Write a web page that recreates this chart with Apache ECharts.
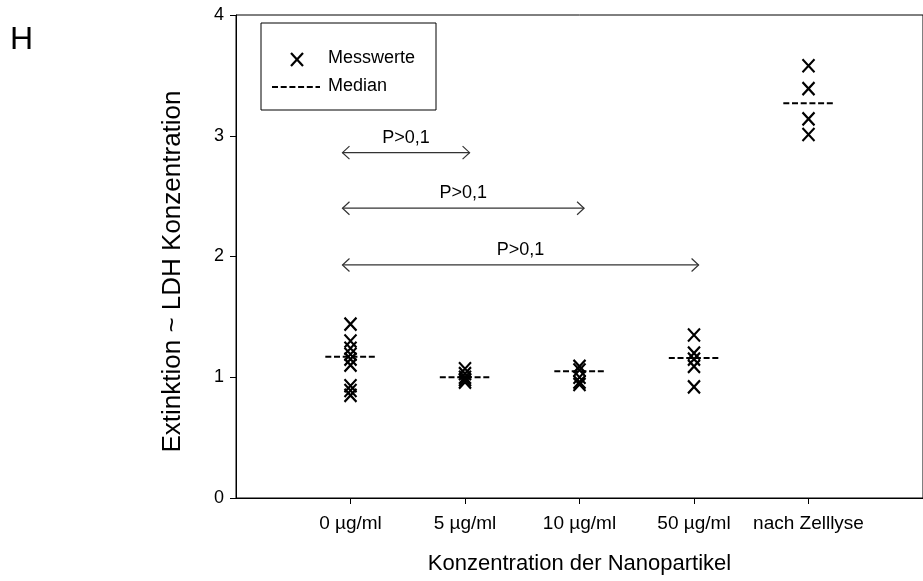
<!DOCTYPE html>
<html>
<head>
<meta charset="utf-8">
<script src="https://cdn.jsdelivr.net/npm/echarts@6/dist/echarts.min.js"></script>
<style>
  html, body { margin: 0; padding: 0; background: #fff; }
  #chart { width: 923px; height: 581px; }
</style>
</head>
<body>
<div id="chart"></div>
<script>
// Kategorien (x-Achse)
const categories = ['0 µg/ml', '5 µg/ml', '10 µg/ml', '50 µg/ml', 'nach Zelllyse'];

// Messwerte je Kategorie
const werte0 = [1.44, 1.30, 1.24, 1.19, 1.15, 1.10, 0.93, 0.89, 0.85];
const werte5 = [1.07, 1.03, 1.00, 0.98, 0.96];
const werte10 = [1.09, 1.06, 1.00, 0.96, 0.94];
const werte50 = [1.35, 1.20, 1.15, 1.09, 0.92];
const werteLyse = [3.58, 3.39, 3.14, 3.01];

// Mediane
const medians = [1.17, 1.00, 1.05, 1.16, 3.27];

// Signifikanz-Pfeile
const bracketFrom = [0, 0, 0];
const bracketTo = [1, 2, 3];
const bracketY = [2.86, 2.40, 1.93];
const bracketText = ['P>0,1', 'P>0,1', 'P>0,1'];

const yTicks = [0, 1, 2, 3, 4];

const FONT = '"Liberation Sans", Arial, sans-serif';
const X_PATH = 'path://M0,0L12,13M12,0L0,13';

const werte = [werte0, werte5, werte10, werte50, werteLyse];
const scatterData = [];
werte.forEach((arr, i) => arr.forEach(v => scatterData.push([i, v])));

const chart = echarts.init(document.getElementById('chart'));

const option = {
  animation: false,
  grid: {
    left: 236,
    right: -3,
    top: 15,
    bottom: 83,
    show: true,
    borderColor: '#000',
    borderWidth: 1
  },
  xAxis: {
    type: 'value',
    min: -1,
    max: 5,
    interval: 1,
    name: 'Konzentration der Nanopartikel',
    nameLocation: 'middle',
    nameGap: 55,
    nameTextStyle: { color: '#000', fontSize: 22, fontFamily: FONT },
    axisLine: { onZero: false, lineStyle: { color: '#000', width: 1 } },
    axisTick: { show: true, inside: false, length: 6, customValues: [0, 1, 2, 3, 4], lineStyle: { color: '#000' } },
    axisLabel: {
      customValues: [0, 1, 2, 3, 4],
      formatter: v => categories[v] || '',
      color: '#000',
      fontSize: 19,
      fontFamily: FONT,
      margin: 16
    },
    splitLine: { show: false }
  },
  yAxis: {
    type: 'value',
    min: 0,
    max: 4,
    interval: 1,
    name: 'Extinktion ~ LDH Konzentration',
    nameLocation: 'middle',
    nameGap: 50,
    nameTextStyle: { color: '#000', fontSize: 26, fontFamily: FONT, padding: [0, 30, 0, 0] },
    axisLine: { show: true, onZero: false, lineStyle: { color: '#000', width: 1 } },
    axisTick: { show: true, inside: false, length: 6, lineStyle: { color: '#000' } },
    axisLabel: {
      formatter: v => (yTicks.indexOf(v) >= 0 ? String(v) : ''),
      color: '#000',
      fontSize: 18,
      fontFamily: FONT,
      margin: 12
    },
    splitLine: { show: false }
  },
  graphic: [
    { type: 'text', x: 10, y: 24, style: { text: 'H', fontSize: 32, fontFamily: FONT, fill: '#000' } },
    // Legende
    { type: 'rect', shape: { x: 261, y: 23, width: 175, height: 87 }, style: { fill: '#fff', stroke: '#000', lineWidth: 1 }, z: 10 },
    { type: 'line', shape: { x1: 291, y1: 53, x2: 303, y2: 66 }, style: { stroke: '#000', lineWidth: 2.2 }, z: 11 },
    { type: 'line', shape: { x1: 303, y1: 53, x2: 291, y2: 66 }, style: { stroke: '#000', lineWidth: 2.2 }, z: 11 },
    { type: 'text', x: 328, y: 58, style: { text: 'Messwerte', fontSize: 18, fontFamily: FONT, fill: '#000', verticalAlign: 'middle' }, z: 11 },
    { type: 'line', shape: { x1: 272, y1: 87, x2: 320, y2: 87 }, style: { stroke: '#000', lineWidth: 2, lineDash: [6, 2.7] }, z: 11 },
    { type: 'text', x: 328, y: 86, style: { text: 'Median', fontSize: 18, fontFamily: FONT, fill: '#000', verticalAlign: 'middle' }, z: 11 }
  ],
  series: [
    {
      name: 'Messwerte',
      type: 'scatter',
      data: scatterData,
      symbol: X_PATH,
      symbolSize: [12, 13],
      itemStyle: { color: 'rgba(0,0,0,0)', borderColor: '#000', borderWidth: 2.2, opacity: 1 },
      silent: true,
      z: 3
    },
    {
      name: 'Median',
      type: 'custom',
      data: medians.map((m, i) => [i, m]),
      renderItem: (params, api) => {
        const x = api.value(0), y = api.value(1);
        const p1 = api.coord([x - 0.22, y]);
        const p2 = api.coord([x + 0.22, y]);
        return {
          type: 'line',
          shape: { x1: p1[0], y1: p1[1], x2: p2[0], y2: p2[1] },
          style: { stroke: '#000', lineWidth: 2, lineDash: [6, 2.7] }
        };
      },
      silent: true,
      z: 4
    },
    {
      name: 'Signifikanz',
      type: 'custom',
      data: bracketY.map((y, i) => [bracketFrom[i], bracketTo[i], y, i]),
      renderItem: (params, api) => {
        const a = api.coord([api.value(0) - 0.07, api.value(2)]);
        const b = api.coord([api.value(1) + 0.04, api.value(2)]);
        const idx = api.value(3);
        const col = '#333';
        return {
          type: 'group',
          children: [
            { type: 'line', shape: { x1: a[0], y1: a[1], x2: b[0], y2: b[1] }, style: { stroke: col, lineWidth: 1.3 } },
            { type: 'polyline', shape: { points: [[a[0] + 7, a[1] - 6.5], [a[0], a[1]], [a[0] + 7, a[1] + 6.5]] }, style: { stroke: col, fill: null, lineWidth: 1.2 } },
            { type: 'polyline', shape: { points: [[b[0] - 7, b[1] - 6.5], [b[0], b[1]], [b[0] - 7, b[1] + 6.5]] }, style: { stroke: col, fill: null, lineWidth: 1.2 } },
            {
              type: 'text',
              x: (a[0] + b[0]) / 2,
              y: a[1] - 15,
              style: { text: bracketText[idx], fontSize: 18, fontFamily: FONT, fill: '#000', align: 'center', verticalAlign: 'middle' }
            }
          ]
        };
      },
      silent: true,
      z: 2
    }
  ]
};

chart.setOption(option);
</script>
</body>
</html>
